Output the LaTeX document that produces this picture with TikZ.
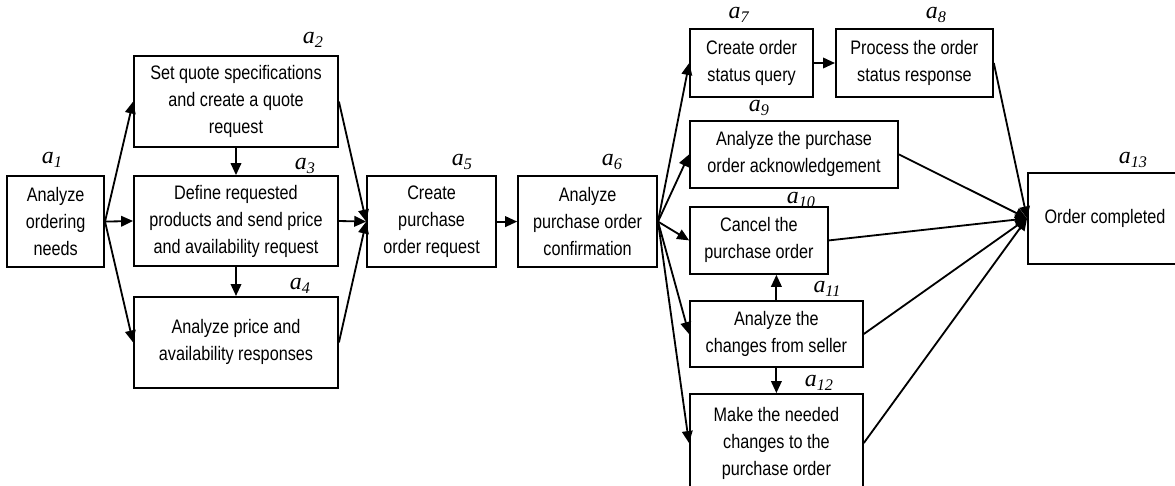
\documentclass[tikz,border=0pt]{standalone}
\usepackage{fontspec}
\setmainfont{Liberation Serif}
\setsansfont[FakeStretch=0.83]{Liberation Sans}
\usetikzlibrary{arrows.meta}
\newcommand{\actlbl}[1]{\fontsize{17}{17}\selectfont\textit{a}\raisebox{-0.35ex}{\fontsize{11.5}{11.5}\selectfont\textit{#1}}}
\begin{document}
\begin{tikzpicture}[
    actbox/.style={draw, line width=1.3pt, inner sep=0pt, align=center,
      font=\sffamily\fontsize{13.9}{19.2}\selectfont},
    actname/.style={inner sep=0pt},
    flow/.style={line width=1.3pt, -{Triangle[length=8.5pt,width=7.5pt]}}
  ]
      \useasboundingbox (0, 0) rectangle (29.375, -12.15);

      \node[actbox, minimum width=2.425cm, minimum height=2.275cm] (a1) at (1.39, -5.54) {Analyze\\ordering\\needs};
      \node[actbox, minimum width=5.1cm, minimum height=2.275cm] (a2) at (5.9, -2.54) {Set quote specifications\\and create a quote\\request};
      \node[actbox, minimum width=5.1cm, minimum height=2.25cm] (a3) at (5.9, -5.525) {Define requested\\products and send price\\and availability request};
      \node[actbox, minimum width=5.1cm, minimum height=2.275cm] (a4) at (5.9, -8.56) {Analyze price and\\availability responses};
      \node[actbox, minimum width=3.225cm, minimum height=2.275cm] (a5) at (10.79, -5.54) {Create\\purchase\\order request};
      \node[actbox, minimum width=3.475cm, minimum height=2.275cm] (a6) at (14.69, -5.54) {Analyze\\purchase order\\confirmation};
      \node[actbox, minimum width=3.075cm, minimum height=1.7cm] (a7) at (18.79, -1.575) {Create order\\status query};
      \node[actbox, minimum width=3.925cm, minimum height=1.7cm] (a8) at (22.86, -1.575) {Process the order\\status response};
      \node[actbox, minimum width=5.2cm, minimum height=1.675cm] (a9) at (19.85, -3.86) {Analyze the purchase\\order acknowledgement};
      \node[actbox, minimum width=3.45cm, minimum height=1.675cm] (a10) at (18.975, -6.01) {Cancel the\\purchase order};
      \node[actbox, minimum width=4.325cm, minimum height=1.65cm] (a11) at (19.41, -8.35) {Analyze the\\changes from seller};
      \node[actbox, minimum width=4.325cm, minimum height=2.45cm] (a12) at (19.41, -11.075) {Make the needed\\changes to the\\purchase order};
      \node[actbox, minimum width=3.85cm, minimum height=2.275cm] (a13) at (27.625, -5.46) {Order completed};

      \node[actname] (l1) at (1.3, -4.0) {\actlbl{1}};
      \node[actname] (l2) at (7.825, -1.0) {\actlbl{2}};
      \node[actname] (l3) at (7.625, -4.15) {\actlbl{3}};
      \node[actname] (l4) at (7.5, -7.15) {\actlbl{4}};
      \node[actname] (l5) at (11.55, -4.05) {\actlbl{5}};
      \node[actname] (l6) at (15.3, -4.05) {\actlbl{6}};
      \node[actname] (l7) at (18.475, -0.375) {\actlbl{7}};
      \node[actname] (l8) at (23.4, -0.375) {\actlbl{8}};
      \node[actname] (l9) at (18.975, -2.7) {\actlbl{9}};
      \node[actname] (l10) at (20.025, -5.0) {\actlbl{10}};
      \node[actname] (l11) at (20.675, -7.225) {\actlbl{11}};
      \node[actname] (l12) at (20.475, -9.575) {\actlbl{12}};
      \node[actname] (l13) at (28.325, -4.0) {\actlbl{13}};

      \draw[flow] (a1.east) -- (a2.west);
      \draw[flow] (a1.east) -- (a3.west);
      \draw[flow] (a1.east) -- (a4.west);
      \draw[flow] (a2.south) -- (a3.north);
      \draw[flow] (a3.south) -- (a4.north);
      \draw[flow] (a2.east) -- (a5.west);
      \draw[flow] (a3.east) -- (a5.west);
      \draw[flow] (a4.east) -- (a5.west);
      \draw[flow] (a5.east) -- (a6.west);

      \draw[flow] (a6.east) -- (a7.west);
      \draw[flow] (a6.east) -- (a9.west);
      \draw[flow] (a6.east) -- (a10.west);
      \draw[flow] (a6.east) -- (a11.west);
      \draw[flow] (a6.east) -- (a12.west);
      \draw[flow] (a7.east) -- (a8.west);
      \draw[flow] (a11.north) -- (a11.north |- a10.south);
      \draw[flow] (a11.south) -- (a12.north);

      \draw[flow] (a8.east) -- (a13.west);
      \draw[flow] (a9.east) -- (a13.west);
      \draw[flow] (a10.east) -- (a13.west);
      \draw[flow] (a11.east) -- (a13.west);
      \draw[flow] (a12.east) -- (a13.west);
\end{tikzpicture}
\end{document}
